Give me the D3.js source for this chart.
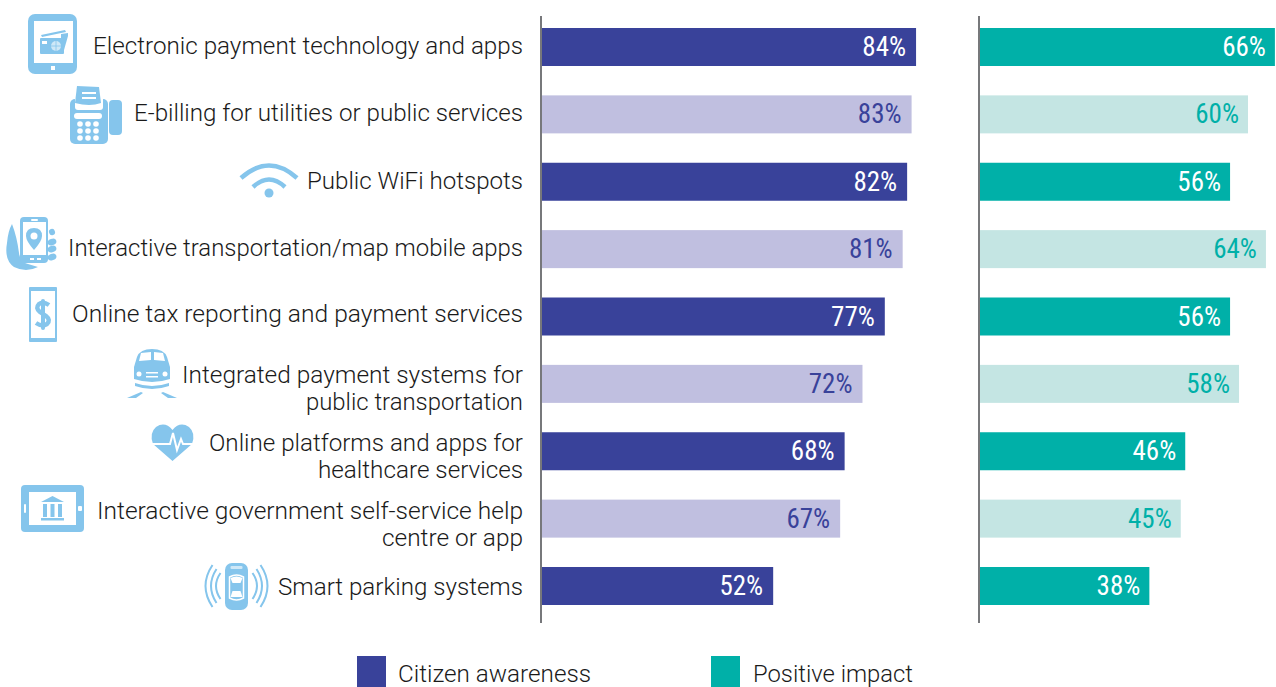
<!DOCTYPE html>
<html>
<head>
<meta charset="utf-8">
<script src="https://cdn.jsdelivr.net/npm/d3@7"></script>
<style>
  html, body { margin: 0; padding: 0; background: #fff; overflow: hidden; }
  text { font-family: "Roboto", "Liberation Sans", sans-serif; font-weight: 300; fill: #1a1a1a; }
  .val { font-family: "Liberation Sans Narrow", "Roboto Condensed", "Liberation Sans", sans-serif; font-weight: 400; }
</style>
</head>
<body>
<div class="chart"></div>
<script>
// chart data
const categories = [
  ["Electronic payment technology and apps"],
  ["E-billing for utilities or public services"],
  ["Public WiFi hotspots"],
  ["Interactive transportation/map mobile apps"],
  ["Online tax reporting and payment services"],
  ["Integrated payment systems for", "public transportation"],
  ["Online platforms and apps for", "healthcare services"],
  ["Interactive government self-service help", "centre or app"],
  ["Smart parking systems"]
];
const awareness = [84, 83, 82, 81, 77, 72, 68, 67, 52];
const impact = [66, 60, 56, 64, 56, 58, 46, 45, 38];
const legendLabels = ["Citizen awareness", "Positive impact"];

// declare constants
const WIDTH = 1276;
const HEIGHT = 687;
const ICON = "#85c5ec";
const DARKBLUE = "#39429a";
const LIGHTBLUE = "#c0bfe0";
const DARKTEAL = "#00b0a8";
const LIGHTTEAL = "#c4e5e3";

// left edge of each label line, so the substitute font fits the original run length
const labelLeft = [[93], [134], [307], [68], [72], [182, 306], [209, 318], [97, 382], [278]];

const svg = d3
  .select(".chart")
  .append("svg")
  .attr("width", WIDTH)
  .attr("height", HEIGHT)
  .style("display", "block");

// shared band scale, one scale per panel
const y = d3
  .scaleBand()
  .domain(d3.range(categories.length))
  .range([28, 605])
  .paddingInner(0.436)
  .paddingOuter(0);
const xLeft = d3.scaleLinear().domain([0, 100]).range([541, 987.5]);
const xRight = d3.scaleLinear().domain([0, 60]).range([979, 1248]);

function drawPanel(values, x, dark, light, pad) {
  const g = svg.append("g");
  g.selectAll("rect")
    .data(values)
    .enter()
    .append("rect")
    .attr("x", x(0))
    .attr("y", (d, i) => y(i))
    .attr("width", (d) => x(d) - x(0))
    .attr("height", y.bandwidth())
    .attr("fill", (d, i) => (i % 2 ? light : dark));
  g.selectAll("text")
    .data(values)
    .enter()
    .append("text")
    .attr("class", "val")
    .attr("x", (d) => x(d) - pad)
    .attr("y", (d, i) => y(i) + y.bandwidth() / 2 + 9)
    .attr("text-anchor", "end")
    .attr("font-size", 27)
    .style("fill", (d, i) => (i % 2 ? dark : "#fff"))
    .text((d) => d + "%");
  // baseline on top of the bars
  g.append("line")
    .attr("x1", x(0))
    .attr("x2", x(0))
    .attr("y1", 16)
    .attr("y2", 623)
    .attr("stroke", "#77787b")
    .attr("stroke-width", 2);
}
drawPanel(awareness, xLeft, DARKBLUE, LIGHTBLUE, 10);
drawPanel(impact, xRight, DARKTEAL, LIGHTTEAL, 9);

// category labels, right aligned against the axis
categories.forEach((lines, i) => {
  const mid = y(i) + y.bandwidth() / 2;
  // a few rows sit slightly off centre in the original
  const nudge = i == 4 ? -2 : i == 5 ? -1 : i == 8 ? 2 : 0;
  lines.forEach((line, j) => {
    svg.append("text")
      .attr("x", labelLeft[i][j])
      .attr("y", (lines.length > 1 ? mid + j * 27 : mid + 7) + nudge)
      .attr("font-size", 24.3)
      .attr("textLength", 523 - labelLeft[i][j])
      .attr("lengthAdjust", "spacingAndGlyphs")
      .text(line);
  });
});

// legend
[[357, DARKBLUE, 398, 193], [711, DARKTEAL, 753, 160]].forEach((d, i) => {
  svg.append("rect").attr("x", d[0]).attr("y", 656).attr("width", 29).attr("height", 31).attr("fill", d[1]);
  svg.append("text")
    .attr("x", d[2])
    .attr("y", 681.5)
    .attr("font-size", 24)
    .attr("textLength", d[3])
    .attr("lengthAdjust", "spacingAndGlyphs")
    .text(legendLabels[i]);
});

// icons
function icon(x, yy) {
  return svg.append("g").attr("transform", `translate(${x},${yy})`);
}
function shape(g, d, fill) {
  return g.append("path").attr("d", d).attr("fill", fill || ICON);
}
function arc(g, d, w, color) {
  return g.append("path").attr("d", d).attr("fill", "none").attr("stroke", color || ICON).attr("stroke-width", w);
}
function box(g, x, yy, w, h, r, fill) {
  return g.append("rect").attr("x", x).attr("y", yy).attr("width", w).attr("height", h).attr("rx", r || 0).attr("fill", fill || ICON);
}
function dot(g, x, yy, r, fill) {
  return g.append("circle").attr("cx", x).attr("cy", yy).attr("r", r).attr("fill", fill || ICON);
}

// tablet with cards
let ic = icon(28, 14);
box(ic, 0, 0, 49, 60, 7);
box(ic, 6, 7, 39, 42, 0, "#fff");
box(ic, 23, 52, 4, 4, 0, "#fff");
shape(ic, "M13 21L37 16L38 18L14 23Z");
shape(ic, "M33 20L40 19L40 22L36 36L33 36Z");
box(ic, 12, 24, 24, 16, 1);
dot(ic, 28, 32, 5, "#cfe8f7");
arc(ic, "M23 32L33 32M28 27L28 37", 0.8);
box(ic, 14, 27, 5, 3, 0, "#fff");

// fax machine
ic = icon(70, 86);
box(ic, 0, 13, 38, 45, 5);
box(ic, 39, 14, 13, 35, 4);
box(ic, 5, 2, 28, 22, 3, "#fff");
shape(ic, "M7 0L29 1L31 17Q20 21 5 17Z");
box(ic, 12, 6, 14, 2, 0, "#fff");
box(ic, 12, 11, 14, 2, 0, "#fff");
box(ic, 4, 27, 28, 6, 3, "#fff");
[38, 45, 52].forEach((b) => [10, 18, 26].forEach((a) => dot(ic, a, b, 2.8, "#fff")));

// wifi
ic = icon(269, 193);
dot(ic, 0, 0, 4.5);
arc(ic, "M-28 -15Q0 -40 28 -15", 4.5);
arc(ic, "M-16 -6Q0 -21 16 -6", 4.5);

// hand holding phone
ic = icon(6, 217);
shape(ic, "M6 7Q11 20 13 36Q14 45 22 47L32 50Q20 56 8 50Q-2 43 1 26Q2 14 6 7Z");
box(ic, 14, 0, 28, 46, 4);
box(ic, 17, 5, 23, 33, 0, "#fff");
box(ic, 25, 2, 7, 2, 1, "#fff");
box(ic, 24, 41, 4, 2, 0, "#fff");
box(ic, 31, 41, 4, 2, 0, "#fff");
shape(ic, "M28 11Q36 11 36 19Q36 24 28 33Q20 24 20 19Q20 11 28 11Z");
dot(ic, 28, 19, 3.5, "#fff");
[[46, 15, 3], [46, 25, 4.5], [46, 32, 4.5], [46, 40, 4.5]].forEach((d) =>
  ic.append("ellipse").attr("cx", d[0]).attr("cy", d[1]).attr("rx", d[2]).attr("ry", 3.2).attr("fill", ICON).attr("transform", `rotate(-20 ${d[0]} ${d[1]})`)
);

// phone with dollar
ic = icon(29, 287);
ic.append("rect").attr("x", 1).attr("y", 1).attr("width", 26).attr("height", 53).attr("rx", 2).attr("fill", "#fff").attr("stroke", ICON).attr("stroke-width", 2);
box(ic, 0, 0, 28, 4, 1);
box(ic, 0, 51, 28, 4, 1);
arc(ic, "M20 18Q14 14 10 17Q6 21 11 25Q14 27 17 29Q22 33 18 37Q13 40 7 36", 4.5);
box(ic, 12, 12, 4, 31, 2);

// train
ic = icon(127, 349);
shape(ic, "M10 8Q13 0 25 0Q37 0 40 8L43 18L43 30Q25 36 7 30L7 18Z");
shape(ic, "M8 34Q25 40 42 34L42 37Q25 43 8 37Z");
shape(ic, "M14 4L24 3L24 11L12 12Z", "#fff");
shape(ic, "M27 3L36 4L38 12L27 11Z", "#fff");
dot(ic, 12, 25, 2.5, "#fff");
dot(ic, 38, 25, 2.5, "#fff");
box(ic, 19, 23, 12, 1.5, 0, "#fff");
box(ic, 19, 27, 12, 1.5, 0, "#fff");
shape(ic, "M0 49L14 43L16 44L9 49Z");
shape(ic, "M50 49L36 43L34 44L41 49Z");

// heart
ic = icon(151, 424);
shape(ic, "M21.5 37L2 20Q-2 9 5 3Q14 -3 21.5 6Q29 -3 38 3Q45 9 41 20Z");
arc(ic, "M0 20L19 20L22 9L26 26L30 15L32 20L43 20", 2, "#fff");

// landscape tablet with government building
ic = icon(21, 485);
box(ic, 0, 0, 63, 47, 4);
box(ic, 8, 7, 47, 33, 0, "#fff");
box(ic, 3, 19, 2, 9, 1, "#fff");
box(ic, 57, 21, 4, 5, 1, "#fff");
shape(ic, "M20 17L31.5 11L43 17Z");
[22, 29.5, 37].forEach((a) => box(ic, a, 19, 4, 13));
box(ic, 20, 33, 23, 2.5);

// car with signal arcs
ic = icon(236.5, 586);
box(ic, -11.5, -23, 23, 47, 7);
arc(ic, "M-7 -9Q0 -13 7 -9L7 12Q0 16 -7 12Z", 1.5, "#fff");
shape(ic, "M-6 -8Q0 -11 6 -8L4 -3L-4 -3Z", "#fff");
shape(ic, "M-4 5L4 5L6 11L-6 11Z", "#fff");
box(ic, -6, -20, 12, 3, 1, "#cfe8f7");
[1, -1].forEach((s) => {
  arc(ic, `M${s * 16} -13Q${s * 25} 0 ${s * 16} 13`, 2);
  arc(ic, `M${s * 20} -17Q${s * 31} 0 ${s * 20} 17`, 2);
  arc(ic, `M${s * 24} -21Q${s * 38} 0 ${s * 24} 21`, 2);
});
</script>
</body>
</html>
